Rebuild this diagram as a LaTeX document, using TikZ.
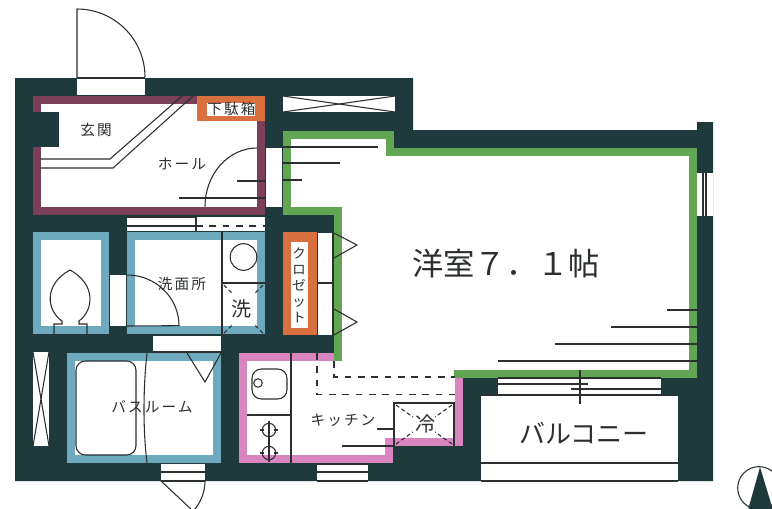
\documentclass[tikz,border=0pt]{standalone}
\usepackage{fontspec}
\setmainfont{Noto Sans CJK JP}
\newfontfamily\spacedfont[LetterSpace=14]{Noto Sans CJK JP}
\usepackage{xcolor}
\definecolor{wallteal}{HTML}{1F3A3D}
\definecolor{inkgray}{HTML}{2B2F30}
\definecolor{hallmaroon}{HTML}{7B3F58}
\definecolor{wetblue}{HTML}{6FA9BD}
\definecolor{roomgreen}{HTML}{62A552}
\definecolor{kitchenpink}{HTML}{D985BF}
\definecolor{storeorange}{HTML}{D8703F}

\begin{document}
\begin{tikzpicture}[x=0.75pt, y=-0.75pt]
    \tikzstyle{band} = [line width=6pt, miter limit=10]
    \tikzstyle{fineline} = [draw=inkgray, line width=0.8pt]
    \tikzstyle{gap} = [fill=white, draw=none]
    \tikzstyle{dashline} = [draw=inkgray, line width=0.8pt, dash pattern=on 5pt off 5pt]
    \tikzstyle{txt} = [font=\spacedfont\fontsize{11}{13}\selectfont, text=inkgray, inner sep=0pt]

    \clip (0,0) rectangle (772,508);
    \fill[white] (0,0) rectangle (772,508);

    % outer walls
    \fill[wallteal] (15,78) -- (413,78) -- (413,130) -- (697,130) -- (697,122) -- (713,122)
      -- (713,481) -- (15,481) -- cycle;

    % main room and kitchen floor
    \fill[white] (287,135) -- (390,135) -- (390,152) -- (693,152) -- (693,374) -- (459,374)
      -- (459,442) -- (389,442) -- (389,459) -- (243,459) -- (243,357) -- (338,357)
      -- (338,211) -- (287,211) -- cycle;
    \draw[band, kitchenpink] (334,357) -- (243,357) -- (243,459) -- (389,459) -- (389,442)
      -- (459,442) -- (459,374);
    \draw[band, roomgreen] (338,361) -- (338,211) -- (287,211) -- (287,135) -- (390,135)
      -- (390,152) -- (693,152) -- (693,374) -- (454,374);

    % hall
    \draw[band, hallmaroon, fill=white] (37,100) rectangle (261,211);
    \fill[wallteal] (33,112) rectangle (59,147);
    \fill[storeorange] (197,96) rectangle (265,121);
    \fill[white] (207,103) rectangle (255,116);

    % wet rooms
    \draw[band, wetblue, fill=white] (37,236) rectangle (105,330);
    \draw[band, wetblue, fill=white] (131,236) rectangle (261,330);
    \draw[band, wetblue, fill=white] (71,357) rectangle (217,459);

    % closet
    \fill[storeorange] (283,232) rectangle (317,335);
    \fill[white] (291,242) rectangle (308,328);
    \fill[white] (318,233) rectangle (333,335);

    % openings in the walls
    \fill[gap] (77,78) rectangle (145,95);
    \fill[gap] (266,148) rectangle (282,207);
    \fill[gap] (283,96) rectangle (395,112);
    \fill[gap] (127,217) rectangle (265,231);
    \fill[gap] (110,275) rectangle (126,326);
    \fill[gap] (33,352) rectangle (49,446);
    \fill[gap] (153,336) rectangle (221,352);
    \fill[gap] (161,464) rectangle (205,481);
    \fill[gap] (317,464) rectangle (368,481);
    \fill[gap] (498,379) rectangle (661,395);
    \fill[gap] (697,173) rectangle (713,216);
    \fill[gap] (481,395) rectangle (678,481);

    % doors
    \draw[fineline] (77,78) -- (77,9) arc[start angle=90, end angle=0, radius=51pt];
    \draw[fineline] (77,78) -- (145,78);
    \draw[fineline] (257,148) arc[start angle=90, end angle=180, x radius=39pt, y radius=44pt];
    \draw[fineline] (127,275) arc[start angle=90, end angle=0, x radius=39pt, y radius=38pt] -- (127,326);
    \draw[fineline] (161,481) -- (192,510);
    \draw[fineline] (205,481) arc[start angle=0, end angle=-43, radius=33pt];
    \draw[fineline] (161,472) -- (205,472);
    \draw[fineline] (161,481) -- (205,481);
    \draw[fineline] (153,352) -- (221,352);

    % hall lines
    \draw[fineline] (40,159) -- (110,159) -- (182,96);
    \draw[fineline] (40,168) -- (113,168) -- (193,96);
    \draw[fineline] (237,181) -- (265,181);
    \draw[fineline] (179,198) -- (265,198);
    \draw[fineline] (127,217) -- (196,217);
    \draw[fineline] (127,226) -- (196,226);
    \draw[fineline] (196,217) -- (196,232);
    \draw[dashline] (196,226) -- (265,226);

    % crossed shafts
    \draw[fineline] (283,96) -- (395,112);
    \draw[fineline] (283,112) -- (395,96);
    \draw[fineline] (33,352) -- (49,446);
    \draw[fineline] (49,352) -- (33,446);

    % main room steps and windows
    \draw[fineline] (282,147) -- (378,147);
    \draw[fineline] (282,163) -- (340,163);
    \draw[fineline] (282,180) -- (302,180);
    \draw[fineline] (667,310) -- (697,310);
    \draw[fineline] (611,327) -- (697,327);
    \draw[fineline] (555,344) -- (697,344);
    \draw[fineline] (498,361) -- (697,361);
    \draw[fineline] (498,378) -- (661,378);
    \draw[fineline] (498,384) -- (588,384);
    \draw[fineline] (571,389) -- (661,389);
    \draw[fineline] (498,395) -- (661,395);
    \draw[fineline] (580,370) -- (580,404);
    \draw[fineline] (703,173) -- (703,216);
    \draw[fineline] (706,173) -- (706,216);
    \draw[fineline] (481,395) -- (678,395);
    \draw[fineline] (481,463) -- (678,463);
    \draw[fineline] (481,481) -- (678,481);

    % closet doors
    \draw[fineline] (333,233) -- (333,335);
    \draw[fineline] (318,283) -- (333,283);
    \draw[fineline] (334,233) -- (357,245) -- (334,258);
    \draw[fineline] (334,309) -- (357,322) -- (334,335);

    % toilet
    \draw[fineline] (54,335) -- (54,324) -- (62,324) -- (62,321)
      .. controls (46,310) and (44,284) .. (70,270)
      .. controls (96,284) and (94,310) .. (79,321) -- (79,324) -- (87,324) -- (87,335);

    % washroom fixtures
    \draw[fineline] (222,232) -- (222,335);
    \draw[fineline] (222,283) -- (265,283);
    \draw[fineline] (243.5,257) circle[radius=10pt];
    \foreach \cx/\cy/\ex/\ey in {224/285/233/294, 263/285/254/294, 224/333/233/324, 263/333/254/324}
      \draw[fineline, densely dashed] (\cx,\cy) -- (\ex,\ey);

    % bath
    \draw[fineline, rounded corners=7pt] (76,361) rectangle (136,455);
    \draw[fineline] (147,353) .. controls (143,390) and (143,430) .. (147,463);
    \draw[fineline] (187,353) -- (205,382) -- (221,353);

    % kitchen fixtures
    \draw[fineline] (291,353) -- (291,463);
    \draw[fineline] (247,415) -- (291,415);
    \draw[fineline, rounded corners=7pt] (252,369) rectangle (287,399);
    \draw[fineline] (258,383) circle[radius=3.2pt];
    \foreach \by in {430,453} {
      \draw[fineline] (269,\by) circle[radius=5pt];
      \draw[fineline] (260,\by) -- (264,\by);
      \draw[fineline] (274,\by) -- (278,\by);
    }
    \draw[fineline] (269,421) -- (269,462);
    \draw[dashline] (317,353) -- (317,394.5) -- (455,394.5);
    \draw[dashline] (334,361) -- (334,377) -- (455,377);
    \draw[fineline] (377,429) -- (394,429);
    \draw[fineline] (342,446) -- (394,446);
    \draw[fineline] (394,446) -- (394,403) -- (454,403) -- (454,446);
    \foreach \cx/\cy/\ex/\ey in {396/405/413/417, 452/405/435/417, 396/444/413/432, 452/444/435/432}
      \draw[fineline, densely dashed] (\cx,\cy) -- (\ex,\ey);

    % kitchen window
    \draw[fineline] (317,464) -- (368,464);
    \draw[fineline] (317,472) -- (368,472);
    \draw[fineline] (317,481) -- (368,481);

    % north mark
    \draw[fineline] (759,488) circle[radius=16pt];
    \fill[wallteal] (760,467) -- (773,510) -- (748,510) -- cycle;

    % labels
    \node (genkan)   [txt] at (96,130) {玄関};
    \node (hall)     [txt] at (182,164) {ホール};
    \node (shoebox)  [txt] at (231.5,109) {下駄箱};
    \node (washroom) [txt] at (182,284) {洗面所};
    \node (washer)   [txt, font=\fontsize{15}{17}\selectfont] at (241,309) {洗};
    \node (bathroom) [txt] at (152,407) {バスルーム};
    \node (kitchen)  [txt] at (343,420) {キッチン};
    \node (fridge)   [txt, font=\fontsize{15}{17}\selectfont] at (425,424) {冷};
    \node (closet)   [txt, font=\fontsize{10}{12}\selectfont, align=center] at (299,285)
      {ク\\ロ\\ゼ\\ッ\\ト};
    \node (room)     [txt, font=\fontsize{23.5}{27}\selectfont] at (506,264) {洋室７．１帖};
    \node (balcony)  [txt, font=\fontsize{19.5}{22}\selectfont] at (584,433) {バルコニー};
\end{tikzpicture}
\end{document}
